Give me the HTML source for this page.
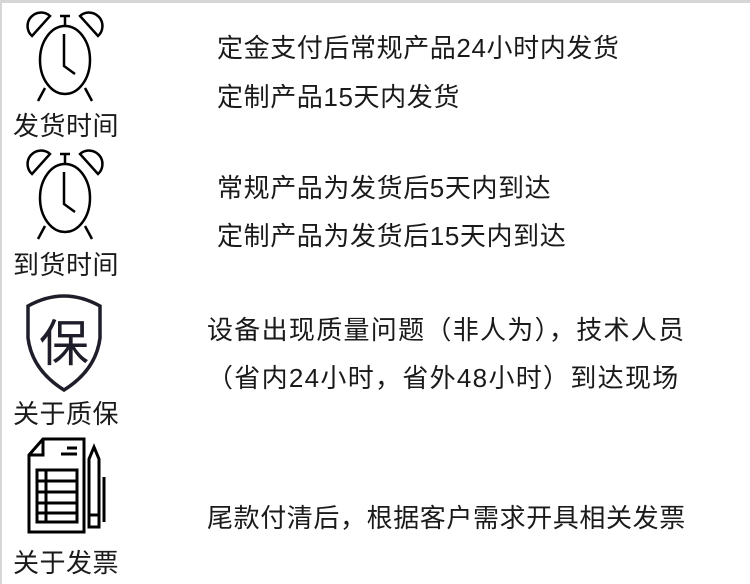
<!DOCTYPE html>
<html><head><meta charset="utf-8"><style>
body{margin:0;width:750px;height:584px;background:#fff;position:relative;overflow:hidden;font-family:"Liberation Sans","Noto Sans CJK SC",sans-serif;color:#1a1a1a}
.t{position:absolute;font-size:26px;line-height:30px;white-space:nowrap;letter-spacing:0.6px}
.l{position:absolute;font-size:26px;line-height:30px;white-space:nowrap;left:13px;letter-spacing:0.5px}
svg{position:absolute}
</style></head><body>
<div style="position:absolute;left:0;top:0;width:750px;height:3px;background:#d6d6d6"></div>
<div style="position:absolute;left:0;top:0;width:2px;height:584px;background:#d6d6d6"></div>

<svg style="left:25px;top:8px" width="80" height="100" viewBox="0 0 80 100">
<g fill="none" stroke="#000" stroke-width="2.5">
<path d="M7 28 A12 12 0 0 1 25 8 Z"/><path d="M73 28 A12 12 0 0 0 55 8 Z"/>
<line x1="40" y1="8" x2="40" y2="18"/><line x1="35" y1="8" x2="45" y2="8"/>
<ellipse cx="40" cy="52" rx="25" ry="34"/>
<polyline points="39,26 39,58 50,66"/>
<line x1="20" y1="80" x2="13" y2="93"/><line x1="60" y1="80" x2="67" y2="93"/>
</g></svg>
<div class="l" style="top:111px">发货时间</div>

<svg style="left:25px;top:146px" width="80" height="100" viewBox="0 0 80 100">
<g fill="none" stroke="#000" stroke-width="2.5">
<path d="M7 28 A12 12 0 0 1 25 8 Z"/><path d="M73 28 A12 12 0 0 0 55 8 Z"/>
<line x1="40" y1="8" x2="40" y2="18"/><line x1="35" y1="8" x2="45" y2="8"/>
<ellipse cx="40" cy="52" rx="25" ry="34"/>
<polyline points="39,26 39,58 50,66"/>
<line x1="20" y1="80" x2="13" y2="93"/><line x1="60" y1="80" x2="67" y2="93"/>
</g></svg>
<div class="l" style="top:250px">到货时间</div>

<svg style="left:24px;top:290px" width="80" height="105" viewBox="0 0 80 105">
<path d="M4 16 Q40 -4 76 16 L76 48 Q72 80 40 100 Q8 80 4 48 Z" fill="none" stroke="#1e1e2a" stroke-width="3.5"/>
<text x="40" y="71" font-size="50" text-anchor="middle" fill="#1e1e2a" font-family="Noto Sans CJK SC,sans-serif">保</text>
</svg>
<div class="l" style="top:399px">关于质保</div>

<svg style="left:27px;top:437px" width="80" height="100" viewBox="0 0 80 100">
<g fill="none" stroke="#000" stroke-width="3">
<path d="M16 2 L57 2 L57 95 L2 95 L2 18 Z"/><path d="M2 18 L16 18 L16 2"/>
<line x1="34" y1="17" x2="50" y2="17"/><line x1="40" y1="11" x2="50" y2="11"/>
<rect x="10" y="33" width="40" height="52"/>
<line x1="10" y1="44" x2="50" y2="44"/><line x1="10" y1="55" x2="50" y2="55"/><line x1="10" y1="66" x2="50" y2="66"/><line x1="10" y1="76" x2="50" y2="76"/>
<line x1="19" y1="33" x2="19" y2="85"/>
<path d="M62 90 L62 22 L67 10 L72 22 L72 90 Z"/><line x1="62" y1="78" x2="72" y2="78"/>
<line x1="77" y1="40" x2="77" y2="85"/>
</g></svg>
<div class="l" style="top:548px">关于发票</div>

<div class="t" style="left:217px;top:33px">定金支付后常规产品24小时内发货</div>
<div class="t" style="left:217px;top:82px">定制产品15天内发货</div>
<div class="t" style="left:217px;top:173px">常规产品为发货后5天内到达</div>
<div class="t" style="left:217px;top:221px">定制产品为发货后15天内到达</div>
<div class="t" style="left:207px;top:315px;letter-spacing:1.3px">设备出现质量问题（非人为），技术人员</div>
<div class="t" style="left:207px;top:363px;letter-spacing:1.3px">（省内24小时，省外48小时）到达现场</div>
<div class="t" style="left:207px;top:503px;letter-spacing:0.6px">尾款付清后，根据客户需求开具相关发票</div>
</body></html>
